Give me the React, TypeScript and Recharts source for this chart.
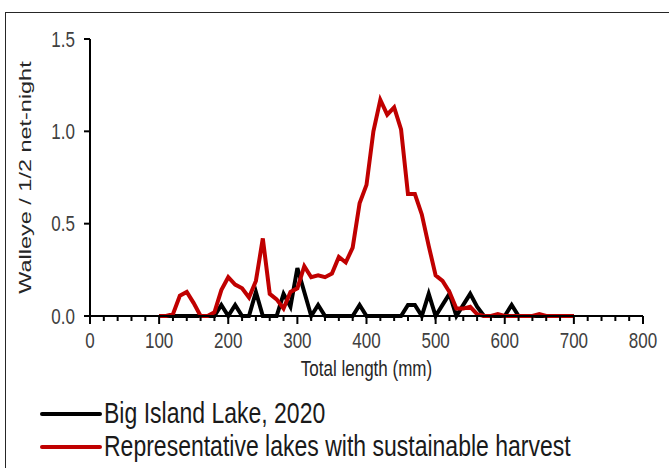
import { LineChart, Line, XAxis, YAxis } from "recharts";

// total length class (mm)
const lengths = [
  100, 110, 120, 130, 140, 150, 160, 170, 180, 190,
  200, 210, 220, 230, 240, 250, 260, 270, 280, 290,
  300, 310, 320, 330, 340, 350, 360, 370, 380, 390,
  400, 410, 420, 430, 440, 450, 460, 470, 480, 490,
  500, 510, 520, 530, 540, 550, 560, 570, 580, 590,
  600, 610, 620, 630, 640, 650, 660, 670, 680, 690,
  700,
];

const bigIsland = [
  0, 0, 0, 0, 0, 0, 0, 0, 0, 0.06,
  0, 0.06, 0, 0, 0.13, 0, 0, 0, 0.12, 0.05,
  0.26, 0.13, 0, 0.06, 0, 0, 0, 0, 0, 0.06,
  0, 0, 0, 0, 0, 0, 0.06, 0.06, 0, 0.12,
  0, 0.06, 0.12, 0, 0.06, 0.12, 0.05, 0, 0, 0,
  0, 0.06, 0, 0, 0, 0, 0, 0, 0, 0,
  0,
];

const representative = [
  0, 0, 0.01, 0.11, 0.13, 0.07, 0, 0, 0.02, 0.14,
  0.21, 0.17, 0.15, 0.1, 0.19, 0.42, 0.12, 0.09, 0.04, 0.13,
  0.15, 0.27, 0.21, 0.22, 0.21, 0.23, 0.32, 0.29, 0.37, 0.61,
  0.71, 1.0, 1.17, 1.09, 1.13, 1.01, 0.66, 0.66, 0.55, 0.38,
  0.22, 0.19, 0.13, 0.04, 0.04, 0.05, 0.01, 0, 0, 0.01,
  0, 0, 0, 0, 0, 0.01, 0, 0, 0, 0,
  0,
];

const xTicks = [
  0, 20, 40, 60, 80, 100, 120, 140, 160, 180, 200, 220, 240, 260, 280,
  300, 320, 340, 360, 380, 400, 420, 440, 460, 480, 500, 520, 540, 560,
  580, 600, 620, 640, 660, 680, 700, 720, 740, 760, 780, 800,
];
const yTicks = [0, 0.5, 1, 1.5];

const series = [
  { key: "big", name: "Big Island Lake, 2020", color: "#000000" },
  { key: "rep", name: "Representative lakes with sustainable harvest", color: "#C00000" },
];

const data = lengths.map((len, i) => ({
  len,
  big: bigIsland[i],
  rep: representative[i],
}));

const font = "'Liberation Sans', Arial, sans-serif";
const stretch = 1.28; // text in the original looks vertically stretched

function XTick({ x, y, payload }: any) {
  const major = payload.value % 100 === 0;
  return (
    <g>
      <line x1={x} x2={x} y1={y} y2={y + (major ? 8 : 5)} stroke="#000" strokeWidth={2} />
      {major && (
        <g transform={`translate(${x},${y + 24}) scale(1,${stretch})`}>
          <text textAnchor="middle" dy="0.355em" fontSize={17} fill="#404040" fontFamily={font}>
            {payload.value}
          </text>
        </g>
      )}
    </g>
  );
}

function YTick({ x, y, payload }: any) {
  return (
    <g transform={`translate(${x},${y}) scale(1,${stretch})`}>
      <text textAnchor="end" dy="0.355em" fontSize={17} fill="#404040" fontFamily={font}>
        {payload.value.toFixed(1)}
      </text>
    </g>
  );
}

function XTitle({ viewBox }: any) {
  const cx = viewBox.x + viewBox.width / 2;
  return (
    <g transform={`translate(${cx},${viewBox.y + 52}) scale(1,${stretch})`}>
      <text textAnchor="middle" dy="0.355em" fontSize={17} fill="#262626" fontFamily={font}>
        Total length (mm)
      </text>
    </g>
  );
}

function YTitle({ viewBox }: any) {
  const cy = viewBox.y + viewBox.height / 2;
  return (
    <g transform={`translate(25,${cy}) rotate(-90) scale(1.38,1)`}>
      <text textAnchor="middle" dy="0.355em" fontSize={17} fill="#262626" fontFamily={font}>
        Walleye / 1/2 net-night
      </text>
    </g>
  );
}

export default function App() {
  return (
    <div style={{ position: "relative", width: 669, height: 468, overflow: "hidden", background: "#fff" }}>
      <style>{`body{margin:0}`}</style>
      <div
        style={{
          position: "absolute",
          left: 5,
          top: 12,
          width: 680,
          height: 480,
          border: "1px solid #262626",
        }}
      />
      <LineChart
        width={669}
        height={468}
        data={data}
        margin={{ top: 39, right: 26, left: 30, bottom: 112 }}
        style={{ position: "absolute", left: 0, top: 0 }}
      >
        <XAxis
          dataKey="len"
          type="number"
          domain={[0, 800]}
          ticks={xTicks}
          interval={0}
          height={40}
          tickSize={0}
          tickMargin={0}
          tickLine={false}
          axisLine={{ stroke: "#000", strokeWidth: 2 }}
          tick={<XTick />}
          label={<XTitle />}
        />
        <YAxis
          type="number"
          domain={[0, 1.5]}
          ticks={yTicks}
          width={60}
          tickSize={6}
          tickMargin={9}
          tickLine={{ stroke: "#000", strokeWidth: 2 }}
          axisLine={{ stroke: "#000", strokeWidth: 2 }}
          tick={<YTick />}
          label={<YTitle />}
        />
        {series.map((s) => (
          <Line
            key={s.key}
            dataKey={s.key}
            name={s.name}
            type="linear"
            stroke={s.color}
            strokeWidth={4}
            dot={false}
            activeDot={false}
            isAnimationActive={false}
          />
        ))}
      </LineChart>
      <div style={{ position: "absolute", left: 40, top: 397, fontFamily: font }}>
        {series.map((s) => (
          <div key={s.key} style={{ display: "flex", alignItems: "center", height: 33 }}>
            <span style={{ width: 62, height: 4, background: s.color, borderRadius: 2, marginRight: 2 }} />
            <span
              style={{
                fontSize: 20,
                color: "#1a1a1a",
                display: "inline-block",
                transform: `scale(1.15,${stretch * 1.15})`,
                transformOrigin: "left center",
              }}
            >
              {s.name}
            </span>
          </div>
        ))}
      </div>
    </div>
  );
}
